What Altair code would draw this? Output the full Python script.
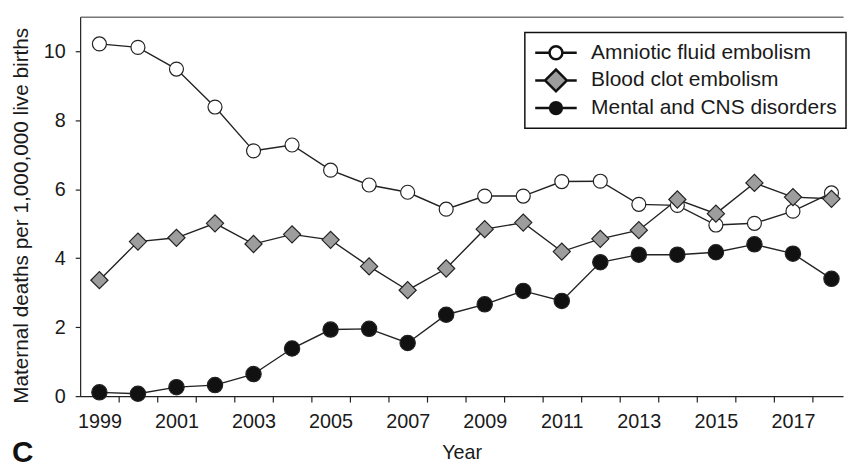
import altair as alt
import pandas as pd

years = list(range(1999, 2019))
amniotic = [10.21, 10.11, 9.48, 8.38, 7.11, 7.28, 6.55, 6.12, 5.91, 5.42,
            5.80, 5.80, 6.22, 6.23, 5.56, 5.53, 4.96, 5.01, 5.36, 5.89]
blood = [3.36, 4.48, 4.59, 5.01, 4.41, 4.69, 4.53, 3.76, 3.07, 3.70,
         4.84, 5.03, 4.19, 4.56, 4.81, 5.70, 5.29, 6.18, 5.77, 5.72]
mental = [0.11, 0.07, 0.26, 0.32, 0.64, 1.38, 1.93, 1.95, 1.54, 2.36,
          2.66, 3.05, 2.76, 3.88, 4.10, 4.10, 4.17, 4.40, 4.13, 3.40]
series = ["Amniotic fluid embolism", "Blood clot embolism", "Mental and CNS disorders"]
label_years = list(range(1999, 2018, 2))
tick_years = [y + 0.5 for y in range(1999, 2018)]
y_ticks = [0, 2, 4, 6, 8, 10]

df = pd.DataFrame({
    "year": years * 3,
    "value": amniotic + blood + mental,
    "series": [series[0]] * 20 + [series[1]] * 20 + [series[2]] * 20,
})

FONT = "Liberation Sans"
TXT = "#1a1a1a"

x_scale = alt.Scale(domain=[1998.5, 2018.3], nice=False, zero=False)
y_scale = alt.Scale(domain=[0, 11], nice=False, zero=True)

x_axis = alt.Axis(
    orient="bottom",
    values=sorted(label_years + tick_years),
    labelExpr="datum.value % 1 == 0 ? format(datum.value, 'd') : ''",
    tickOpacity={"condition": {"test": "datum.value % 1 == 0", "value": 0}, "value": 1},
    labelOverlap=False,
    grid=False,
    tickSize=6,
    labelPadding=10,
    titlePadding=11,
)
y_axis = alt.Axis(
    orient="left",
    values=y_ticks,
    grid=False,
    tickSize=5,
    labelPadding=10,
    titlePadding=12,
    titleY=201,
    titleFontSize=21,
)
top_axis = alt.Axis(orient="top", labels=False, ticks=False, domain=True,
                    domainColor="#777", domainWidth=1.5, grid=False, title=None)

circle_path = "M-1,0L0.45,0M1.75,0L3.2,0M0.45,0A0.65,0.65,0,1,1,1.75,0A0.65,0.65,0,1,1,0.45,0Z"
diamond_path = "M-1,0L0,0M2.2,0L3.2,0M0,0L1.1,-1.1L2.2,0L1.1,1.1Z"
dot_path = "M-1,0L0.45,0M1.75,0L3.2,0M0.5,0A0.6,0.6,0,1,1,1.7,0A0.6,0.6,0,1,1,0.5,0Z"

fills = ["white", "#9d9d9d", "#111111"]
shapes = ["circle", "diamond", "circle"]
sizes = [200, 300, 240]

legend = alt.Legend(
    title=None, orient="none", legendX=450, legendY=16,
    symbolSize=400, symbolStrokeWidth=2.5,
    labelOffset=35, rowPadding=0, padding=9,
    strokeColor="#111111", fillColor="white",
    labelFont=FONT, labelFontSize=21.2, labelColor=TXT, labelLimit=500,
)

lines = alt.Chart(df).mark_line(color="#222222", strokeWidth=1.4).encode(
    x=alt.X("year:Q", scale=x_scale, axis=x_axis, title="Year"),
    y=alt.Y("value:Q", scale=y_scale, axis=y_axis,
            title="Maternal deaths per 1,000,000 live births"),
    detail="series:N",
)

point_layers = []
for name, shp, fc, sz in [(series[0], shapes[0], fills[0], sizes[0]),
                          (series[2], shapes[2], fills[2], sizes[2]),
                          (series[1], shapes[1], fills[1], sizes[1])]:
    point_layers.append(
        alt.Chart(df).transform_filter(alt.datum.series == name).mark_point(
            filled=True, shape=shp, fill=fc, size=sz,
            stroke="#222222", strokeWidth=1.2, opacity=1,
        ).encode(
            x=alt.X("year:Q", axis=None),
            y=alt.Y("value:Q", axis=None),
        )
    )

legend_layer = alt.Chart(df).transform_filter("false").mark_point(
    filled=True, strokeWidth=2.5, opacity=1
).encode(
    x=alt.X("year:Q", axis=top_axis),
    y=alt.Y("value:Q", axis=None),
    shape=alt.Shape("series:N", scale=alt.Scale(domain=series, range=[circle_path, diamond_path, dot_path]), legend=legend),
    fill=alt.Fill("series:N", scale=alt.Scale(domain=series, range=fills), legend=legend),
    stroke=alt.Stroke("series:N", scale=alt.Scale(domain=series, range=["#111111", "#111111", "#111111"]), legend=legend),
)

chart = alt.layer(lines, *point_layers, legend_layer).resolve_axis(
    x="independent", y="independent"
).properties(
    width=772, height=384,
    padding={"left": 2, "top": 6, "right": 0, "bottom": 0},
    background="white",
    title=alt.TitleParams(
        "C", orient="bottom", anchor="start", frame="group",
        dx=-69, dy=-28, fontSize=30, fontWeight="bold", font=FONT, color="#111111",
    ),
).configure_view(stroke=None).configure_axis(
    labelFont=FONT, labelFontSize=20, labelColor=TXT,
    titleFont=FONT, titleFontSize=20, titleFontWeight="normal", titleColor=TXT,
    domainColor="#222222", tickColor="#222222", domainWidth=1.2, tickWidth=1.2,
).configure_legend(strokeWidth=1.5)

chart.save("out.html", embed_options={"renderer": "svg", "actions": False})
